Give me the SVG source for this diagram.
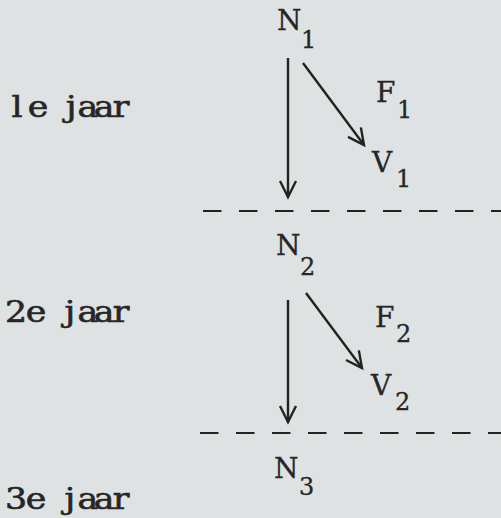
<svg xmlns="http://www.w3.org/2000/svg" width="501" height="518" viewBox="0 0 501 518">
<defs>
<style>
.t{font-family:"DejaVu Serif","Liberation Serif",serif;fill:#262626;stroke:#262626;stroke-width:0.3;}
.lbl{font-size:29px;text-anchor:middle;stroke-width:0.6;}
.big{font-size:28px;}
.sub{font-size:24px;}
.ln{stroke:#222;stroke-width:2.4;fill:none;}
.dash{stroke:#222;stroke-width:2.2;stroke-dasharray:18.5 17.5;fill:none;}
</style>
<marker id="ah" markerWidth="24" markerHeight="24" refX="17" refY="10" orient="auto" markerUnits="userSpaceOnUse">
<path d="M1,2 L17,10 L1,18" fill="none" stroke="#222" stroke-width="2.4"/>
</marker>
</defs>
<rect x="0" y="0" width="501" height="518" fill="#dee2e3"/>
<g id="labels" transform="scale(1.2 1)">
<text class="t lbl" x="14.2 31.7 59.2 73.3 86.7 100.8" y="117">lejaar</text>
<text class="t lbl" x="13.3 30 58.3 73.3 86.7 100.8" y="322">2ejaar</text>
<text class="t lbl" x="13.3 30 58.3 73.3 86.7 100.8" y="509">3ejaar</text>
</g>
<g id="N1"><text class="t big" x="277" y="30">N</text><text class="t sub" x="301" y="48">1</text></g>
<g id="F1"><text class="t big" x="376" y="102">F</text><text class="t sub" x="397" y="118">1</text></g>
<g id="V1"><text class="t big" x="372" y="172">V</text><text class="t sub" x="396" y="187">1</text></g>
<g id="N2"><text class="t big" x="276" y="255">N</text><text class="t sub" x="300" y="275">2</text></g>
<g id="F2"><text class="t big" x="375" y="327">F</text><text class="t sub" x="396" y="342">2</text></g>
<g id="V2"><text class="t big" x="371" y="395">V</text><text class="t sub" x="395" y="410">2</text></g>
<g id="N3"><text class="t big" x="274" y="478">N</text><text class="t sub" x="299" y="495">3</text></g>
<g id="connectors">
<line class="ln" x1="288" y1="58" x2="288" y2="197" marker-end="url(#ah)"/>
<line class="ln" x1="303" y1="63" x2="364" y2="145" marker-end="url(#ah)"/>
<line class="ln" x1="288" y1="300" x2="288" y2="422" marker-end="url(#ah)"/>
<line class="ln" x1="306" y1="293" x2="362" y2="368" marker-end="url(#ah)"/>
<line class="dash" x1="203" y1="211" x2="501" y2="211"/>
<line class="dash" x1="200" y1="433" x2="501" y2="433"/>
</g>
</svg>
